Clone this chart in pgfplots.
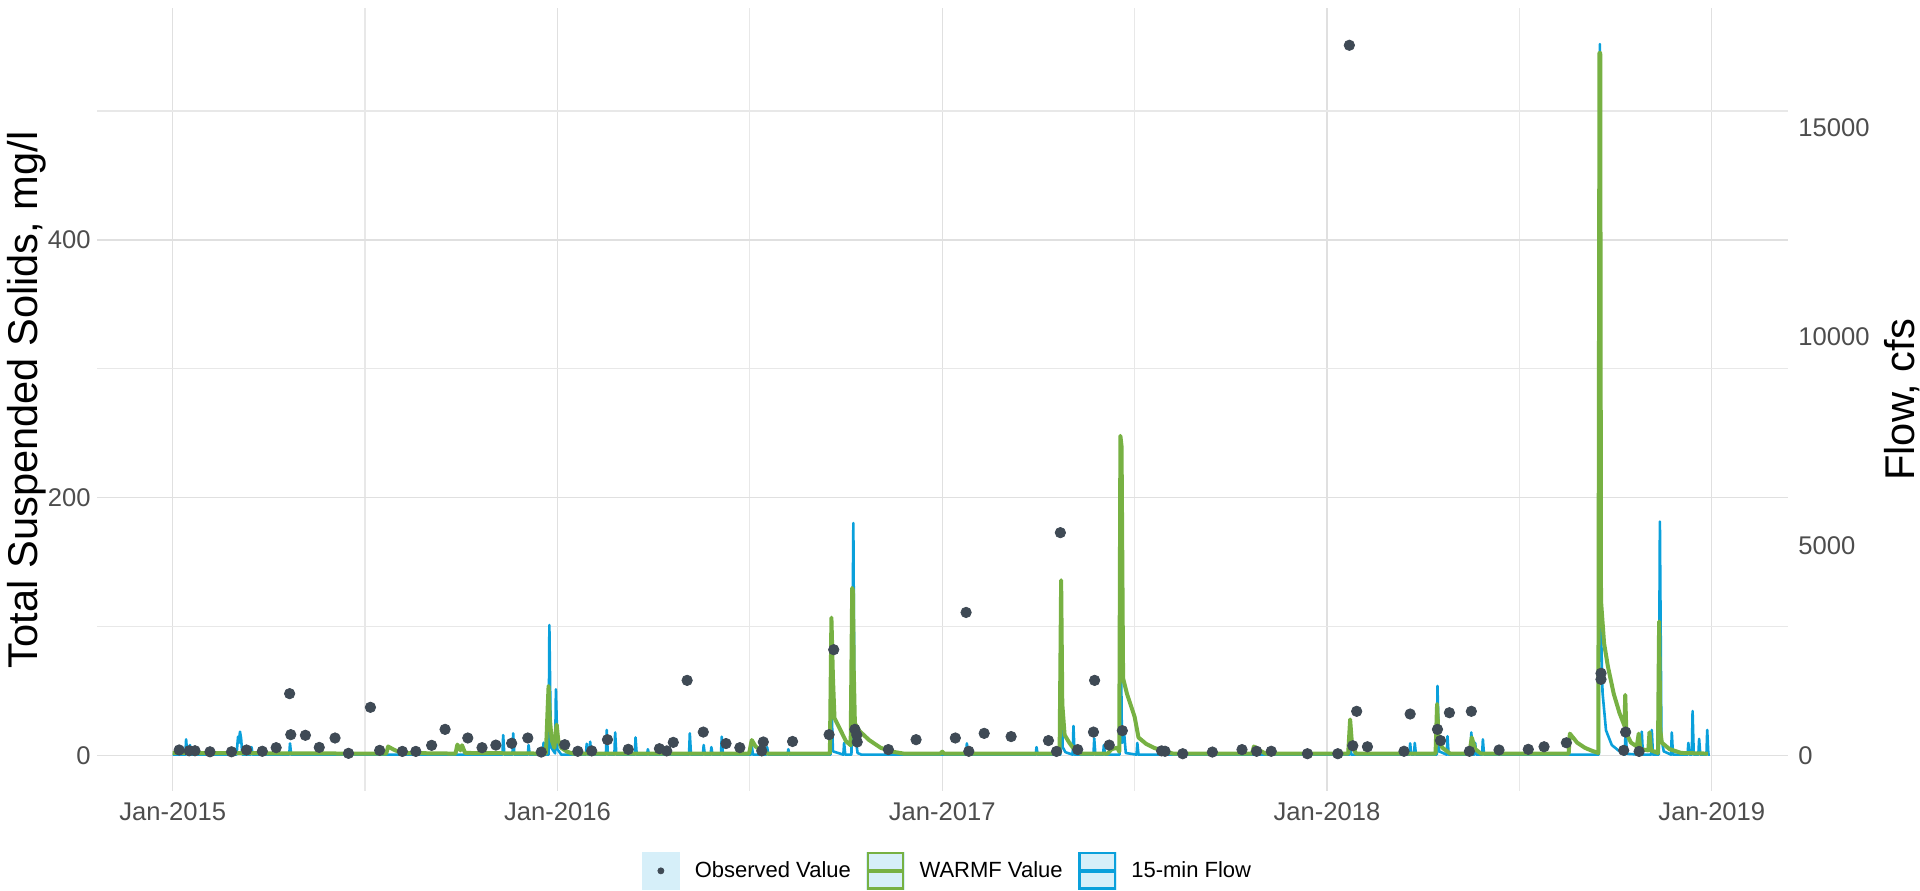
\documentclass[border=0pt]{standalone}
\usepackage{pgfplots}
\pgfplotsset{compat=1.18}
\usepackage{fontspec}
\setmainfont{Liberation Sans}
\definecolor{obscol}{HTML}{3F4A55}
\definecolor{greencol}{HTML}{77B143}
\definecolor{bluecol}{HTML}{0AA0DB}
\definecolor{keyfill}{HTML}{D6EFF9}
\definecolor{gridcol}{HTML}{E0E0E0}
\definecolor{gridcolm}{HTML}{E8E8E8}
\definecolor{tickcol}{HTML}{4D4D4D}
\pgfplotsset{
  base/.style={
    scale only axis, width=845.5pt, height=391.35pt,
    at={(48.5pt,49.45pt)}, anchor=south west,
    xmin=2014.8034, xmax=2019.198,
    axis line style={draw=none},
    major tick length=0pt, minor tick length=0pt,
    /pgf/number format/assume math mode=true,
    /pgf/number format/1000 sep={},
    scaled y ticks=false,
    ticklabel style={font=\fontsize{12.8}{15}\selectfont, text=tickcol},
  },
  tssaxis/.style={ymin=-27.6, ymax=579.6},
}
\begin{document}
\begin{tikzpicture}
\useasboundingbox (0,0) rectangle (960pt,445pt);
% grid + left axis
\begin{axis}[base, tssaxis,
  xtick={2015,2016,2017,2018,2019},
  xticklabels={Jan-2015,Jan-2016,Jan-2017,Jan-2018,Jan-2019},
  minor xtick={2015.5,2016.5,2017.5,2018.5},
  ytick={0,200,400}, minor ytick={100,300,500},
  grid=both,
  major grid style={gridcol, line width=0.65pt},
  minor grid style={gridcolm, line width=0.55pt},
  yticklabel style={anchor=east, inner sep=0pt, xshift=-3pt},
  xticklabel style={anchor=north, inner sep=0pt, yshift=-5.45pt},
  every axis y label/.style={at={(axis description cs:-0.0415,0.5)}, rotate=90, anchor=center, font=\fontsize{20.8}{24}\selectfont},
  ylabel={Total Suspended Solids, mg/l},
]
\addplot[draw=none, forget plot] coordinates {(2015,0)};
\end{axis}
% flow axis
\begin{axis}[base, ymin=-850, ymax=17841,
  axis y line*=right, axis x line=none,
  ytick={0,5000,10000,15000},
  yticklabels={0,5000,10000,15000},
  yticklabel style={anchor=west, inner sep=0pt, xshift=5pt},
  every axis y label/.style={at={(axis description cs:1.0674,0.5)}, rotate=90, anchor=center, font=\fontsize{20.8}{24}\selectfont},
  ylabel={Flow, cfs},
]
\addplot[bluecol, line width=1.3pt, line join=round] table {
2015.000 20
2015.033 20
2015.035 386
2015.038 20
2015.043 20
2015.045 250
2015.048 20
2015.058 20
2015.060 150
2015.063 20
2015.166 20
2015.170 450
2015.172 300
2015.175 569
2015.178 400
2015.181 20
2015.203 20
2015.205 200
2015.208 20
2015.303 20
2015.305 290
2015.308 20
2015.857 20
2015.859 488
2015.862 20
2015.883 20
2015.885 530
2015.888 20
2015.923 20
2015.925 250
2015.928 20
2015.962 20
2015.964 306
2015.967 20
2015.977 20
2015.979 3116
2015.983 200
2015.994 50
2015.996 1581
2016.000 150
2016.010 20
2016.074 20
2016.076 280
2016.079 20
2016.083 20
2016.085 330
2016.088 20
2016.126 20
2016.128 610
2016.131 20
2016.148 20
2016.150 551
2016.153 20
2016.201 20
2016.203 432
2016.206 20
2016.233 20
2016.235 150
2016.238 20
2016.342 20
2016.344 530
2016.347 20
2016.378 20
2016.380 250
2016.383 20
2016.398 20
2016.400 200
2016.403 20
2016.425 20
2016.427 450
2016.430 20
2016.503 20
2016.505 250
2016.508 20
2016.543 20
2016.545 200
2016.548 20
2016.598 20
2016.600 150
2016.603 20
2016.710 20
2016.712 1200
2016.716 100
2016.743 20
2016.745 300
2016.748 20
2016.764 20
2016.766 2000
2016.769 5550
2016.772 500
2016.776 330
2016.780 60
2016.790 20
2017.062 20
2017.064 290
2017.067 20
2017.243 20
2017.245 200
2017.248 20
2017.307 20
2017.309 2500
2017.313 200
2017.320 80
2017.339 20
2017.341 704
2017.344 20
2017.393 20
2017.395 410
2017.398 20
2017.418 20
2017.420 250
2017.423 20
2017.461 20
2017.463 3800
2017.467 300
2017.473 500
2017.477 60
2017.505 20
2017.507 300
2017.510 20
2018.058 20
2018.060 250
2018.063 20
2018.214 20
2018.216 290
2018.219 20
2018.226 20
2018.228 300
2018.231 20
2018.285 20
2018.287 1660
2018.291 100
2018.311 20
2018.313 460
2018.316 20
2018.373 20
2018.375 551
2018.378 20
2018.383 20
2018.385 300
2018.388 20
2018.403 20
2018.405 386
2018.408 20
2018.706 20
2018.709 16988
2018.712 3000
2018.716 1500
2018.725 600
2018.740 250
2018.760 100
2018.774 20
2018.776 688
2018.779 40
2018.816 20
2018.818 570
2018.821 20
2018.842 20
2018.844 610
2018.847 20
2018.862 20
2018.865 5585
2018.869 400
2018.875 100
2018.894 20
2018.896 551
2018.899 20
2018.937 20
2018.939 300
2018.942 20
2018.948 20
2018.950 1063
2018.953 20
2018.965 20
2018.967 399
2018.970 20
2018.986 20
2018.988 610
2018.991 20
2018.995 20
};
\end{axis}
% TSS data axis
\begin{axis}[base, tssaxis, hide axis,
  legend columns=3,
  legend style={at={(axis description cs:0.3221,-0.1264)}, anchor=south west,
    draw=none, fill=none, inner sep=0pt, outer sep=0pt,
    font=\fontsize{11}{13}\selectfont,
    nodes={inner sep=0pt, outer sep=0pt},
    /tikz/every odd column/.append style={column sep=7.35pt},
    /tikz/every even column/.append style={column sep=7.5pt}},
]
\addlegendimage{legend image code/.code={
  \fill[keyfill] (0pt,-9.4pt) rectangle (18.8pt,9.4pt);
  \fill[obscol] (9.4pt,0pt) circle (1.5pt);}}
\addlegendentry{Observed Value}
\addlegendimage{legend image code/.code={
  \fill[keyfill] (0pt,-9.4pt) rectangle (18.8pt,9.4pt);
  \draw[greencol, line width=1.1pt] (0.55pt,-8.85pt) rectangle (18.25pt,8.85pt);
  \draw[greencol, line width=1.8pt] (0.55pt,0pt) -- (18.25pt,0pt);}}
\addlegendentry{WARMF Value}
\addlegendimage{legend image code/.code={
  \fill[keyfill] (0pt,-9.4pt) rectangle (18.8pt,9.4pt);
  \draw[bluecol, line width=1.1pt] (0.55pt,-8.85pt) rectangle (18.25pt,8.85pt);
  \draw[bluecol, line width=1.8pt] (0.55pt,0pt) -- (18.25pt,0pt);}}
\addlegendentry{15-min Flow}
\addplot[greencol, line width=2pt, line join=round, forget plot] table {
2015.000 2.0
2015.500 1.5
2015.555 1.5
2015.560 7.0
2015.575 4.5
2015.595 2.0
2015.735 1.5
2015.740 8.5
2015.748 4
2015.752 8
2015.760 2
2015.970 1.5
2015.975 40
2015.977 54
2015.980 30
2015.985 12
2015.992 6
2015.996 20
2015.998 24
2016.002 12
2016.010 6
2016.025 3
2016.040 1.5
2016.498 1.5
2016.505 12
2016.515 7
2016.530 4
2016.545 1.5
2016.708 1.5
2016.712 107
2016.716 60
2016.720 29
2016.735 20
2016.750 11
2016.762 8
2016.766 130
2016.768 128
2016.770 66
2016.773 25
2016.785 19
2016.810 12
2016.840 6
2016.870 3
2016.900 1.5
2016.995 1.5
2017.000 3
2017.005 1.5
2017.305 1.5
2017.309 136
2017.312 40
2017.318 16
2017.330 10
2017.345 4
2017.360 1.5
2017.430 1.5
2017.440 5
2017.455 6
2017.460 3
2017.463 248
2017.466 240
2017.470 60
2017.480 48
2017.500 30
2017.510 14
2017.530 9
2017.550 6
2017.570 4
2017.600 1.5
2017.805 1.5
2017.810 7
2017.825 4
2017.840 1.5
2018.055 1.5
2018.060 28
2018.065 8
2018.075 1.5
2018.282 1.5
2018.286 40
2018.290 12
2018.300 6
2018.320 1.5
2018.370 1.5
2018.376 14
2018.385 5
2018.400 1.5
2018.628 1.5
2018.631 17
2018.650 10
2018.670 6
2018.690 3.5
2018.705 2
2018.708 545
2018.710 545
2018.712 120
2018.720 87
2018.730 69
2018.745 48
2018.760 33
2018.773 23
2018.775 47
2018.778 17
2018.790 10
2018.805 7
2018.810 17
2018.814 5
2018.835 4
2018.838 18
2018.842 4
2018.860 2
2018.863 104
2018.866 20
2018.870 10
2018.890 5
2018.920 2
2018.990 1.5
};
\addplot[only marks, mark=*, mark size=2.6pt, color=obscol, forget plot] table {
2015.017 4.3
2015.043 3.7
2015.058 3.7
2015.097 2.9
2015.153 2.9
2015.192 4.3
2015.233 3.3
2015.269 6.1
2015.304 48.0
2015.307 16.2
2015.345 15.7
2015.381 6.3
2015.422 13.6
2015.457 1.7
2015.514 37.4
2015.538 4.0
2015.597 3.2
2015.632 3.2
2015.673 7.9
2015.708 20.3
2015.767 13.6
2015.804 6.1
2015.840 8.1
2015.881 9.5
2015.923 13.6
2015.958 2.7
2016.019 8.4
2016.053 3.3
2016.089 3.6
2016.130 12.3
2016.184 4.8
2016.265 5.3
2016.284 3.6
2016.301 10.2
2016.337 58.3
2016.379 18.2
2016.438 9.3
2016.474 6.1
2016.531 3.6
2016.535 10.5
2016.611 10.9
2016.706 16.2
2016.718 82.1
2016.773 20.3
2016.778 16.0
2016.779 10.5
2016.860 4.6
2016.932 12.3
2017.034 13.6
2017.062 111.0
2017.069 3.3
2017.109 17.2
2017.179 14.7
2017.276 11.6
2017.297 3.2
2017.307 172.9
2017.352 4.6
2017.393 18.2
2017.396 58.3
2017.434 8.1
2017.468 19.3
2017.570 3.6
2017.579 3.3
2017.625 1.4
2017.702 2.7
2017.779 4.6
2017.817 3.3
2017.855 3.3
2017.949 1.4
2018.028 1.4
2018.058 551
2018.067 7.6
2018.077 34.3
2018.105 6.8
2018.200 3.3
2018.216 32.2
2018.287 20.3
2018.295 11.6
2018.318 33.2
2018.370 3.3
2018.375 34.3
2018.447 4.3
2018.523 4.8
2018.564 6.8
2018.622 9.9
2018.712 63.8
2018.712 59.1
2018.771 4.0
2018.776 18.2
2018.811 3.2
};
\end{axis}
\end{tikzpicture}
\end{document}
